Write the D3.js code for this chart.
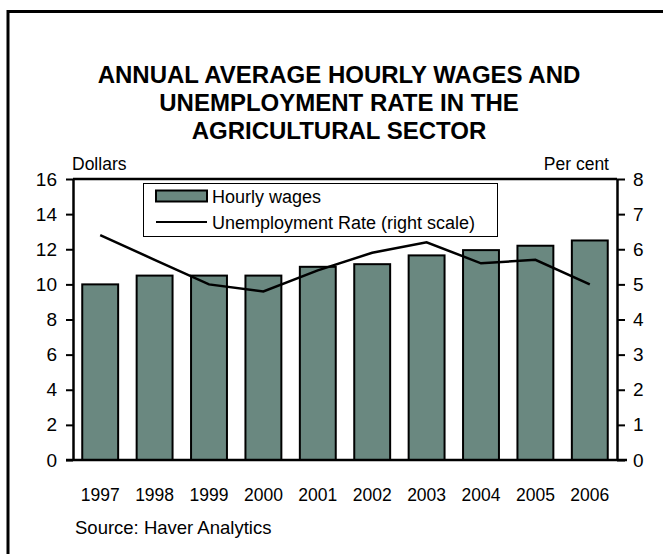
<!DOCTYPE html>
<html>
<head>
<meta charset="utf-8">
<script src="https://cdn.jsdelivr.net/npm/d3@7"></script>
<style>
  html, body { margin: 0; padding: 0; background: #fff; }
  svg { display: block; font-family: Arial, "Liberation Sans", sans-serif; }
</style>
</head>
<body>
<svg id="chart" width="663" height="554"></svg>
<script>
// Annual figures for the agricultural sector
const years = ["1997", "1998", "1999", "2000", "2001", "2002", "2003", "2004", "2005", "2006"];
const hourlyWages = [10.0, 10.5, 10.5, 10.5, 11.0, 11.15, 11.65, 11.95, 12.2, 12.5];
const unemploymentRate = [6.4, 5.7, 5.0, 4.8, 5.4, 5.9, 6.2, 5.6, 5.7, 5.0];
const leftTicks = [0, 2, 4, 6, 8, 10, 12, 14, 16];
const rightTicks = [0, 1, 2, 3, 4, 5, 6, 7, 8];
const titleLines = ["ANNUAL AVERAGE HOURLY WAGES AND", "UNEMPLOYMENT RATE IN THE", "AGRICULTURAL SECTOR"];

const svg = d3.select("#chart");
const plot = { left: 73, right: 617, top: 179, bottom: 460 };
const barFill = "#6a8880";

// outer frame (runs off the right and bottom edges)
svg.append("rect")
  .attr("x", 8).attr("y", 11.5)
  .attr("width", 720).attr("height", 620)
  .attr("fill", "none").attr("stroke", "#000").attr("stroke-width", 3);

// title
svg.append("g").selectAll("text").data(titleLines).join("text")
  .attr("x", 339).attr("y", (d, i) => 83 + i * 28)
  .attr("text-anchor", "middle")
  .attr("font-weight", "bold").attr("font-size", 24)
  .text(d => d);

const x = d3.scaleBand().domain(years)
  .range([plot.left, plot.right]).paddingInner(0.34).paddingOuter(0.17);
const yL = d3.scaleLinear().domain([0, 16]).range([plot.bottom, plot.top]);
const yR = d3.scaleLinear().domain([0, 8]).range([plot.bottom, plot.top]);

// bars
svg.append("g").selectAll("rect").data(years).join("rect")
  .attr("x", d => x(d))
  .attr("y", (d, i) => yL(hourlyWages[i]))
  .attr("width", x.bandwidth())
  .attr("height", (d, i) => yL(0) - yL(hourlyWages[i]))
  .attr("fill", barFill).attr("stroke", "#000").attr("stroke-width", 2);

// unemployment line on the right scale
const line = d3.line()
  .x((d, i) => x(years[i]) + x.bandwidth() / 2)
  .y(d => yR(d));
svg.append("path").datum(unemploymentRate)
  .attr("d", line).attr("fill", "none")
  .attr("stroke", "#000").attr("stroke-width", 2.5).attr("stroke-linejoin", "miter");

// axes
const axL = svg.append("g").attr("transform", `translate(${plot.left},0)`)
  .call(d3.axisLeft(yL).tickValues(leftTicks).tickSize(7).tickPadding(9).tickSizeOuter(0));
const axR = svg.append("g").attr("transform", `translate(${plot.right},0)`)
  .call(d3.axisRight(yR).tickValues(rightTicks).tickSize(8).tickPadding(8).tickSizeOuter(0));
[axL, axR].forEach(ax => {
  ax.select(".domain").attr("stroke-width", 2.5);
  ax.selectAll(".tick line").attr("stroke-width", 2);
  ax.selectAll(".tick text").attr("font-size", 19).attr("fill", "#000")
    .attr("font-family", "Arial, 'Liberation Sans', sans-serif");
});

// category labels under the bars, plus bottom axis line and top frame line
const axB = svg.append("g").attr("transform", `translate(0,${plot.bottom})`)
  .call(d3.axisBottom(x).tickSize(0).tickPadding(29).tickSizeOuter(0));
axB.select(".domain").remove();
axB.selectAll(".tick text").attr("font-size", 17.5).attr("fill", "#000")
  .attr("font-family", "Arial, 'Liberation Sans', sans-serif");
svg.append("line")
  .attr("x1", plot.left - 7).attr("x2", plot.right + 10)
  .attr("y1", plot.bottom).attr("y2", plot.bottom)
  .attr("stroke", "#000").attr("stroke-width", 2.5);
svg.append("line")
  .attr("x1", plot.left).attr("x2", plot.right)
  .attr("y1", plot.top).attr("y2", plot.top)
  .attr("stroke", "#000").attr("stroke-width", 2.5);

// axis unit labels
svg.append("text").attr("x", plot.left - 1).attr("y", plot.top - 9)
  .attr("font-size", 17.5).text("Dollars");
svg.append("text").attr("x", plot.right - 8).attr("y", plot.top - 9)
  .attr("text-anchor", "end").attr("font-size", 17.5).text("Per cent");

// legend
const lg = svg.append("g");
lg.append("rect").attr("x", 143.5).attr("y", 183.5).attr("width", 354).attr("height", 53)
  .attr("fill", "#fff").attr("stroke", "#000").attr("stroke-width", 1);
lg.append("rect").attr("x", 156).attr("y", 190.5).attr("width", 51).attr("height", 11)
  .attr("fill", barFill).attr("stroke", "#000").attr("stroke-width", 2);
lg.append("text").attr("x", 212).attr("y", 203).attr("font-size", 18).text("Hourly wages");
lg.append("line").attr("x1", 156).attr("x2", 207).attr("y1", 222).attr("y2", 222)
  .attr("stroke", "#000").attr("stroke-width", 2);
lg.append("text").attr("x", 212).attr("y", 228.5).attr("font-size", 18)
  .text("Unemployment Rate (right scale)");

// source note
svg.append("text").attr("x", 75).attr("y", 534).attr("font-size", 18.5)
  .text("Source: Haver Analytics");
</script>
</body>
</html>
